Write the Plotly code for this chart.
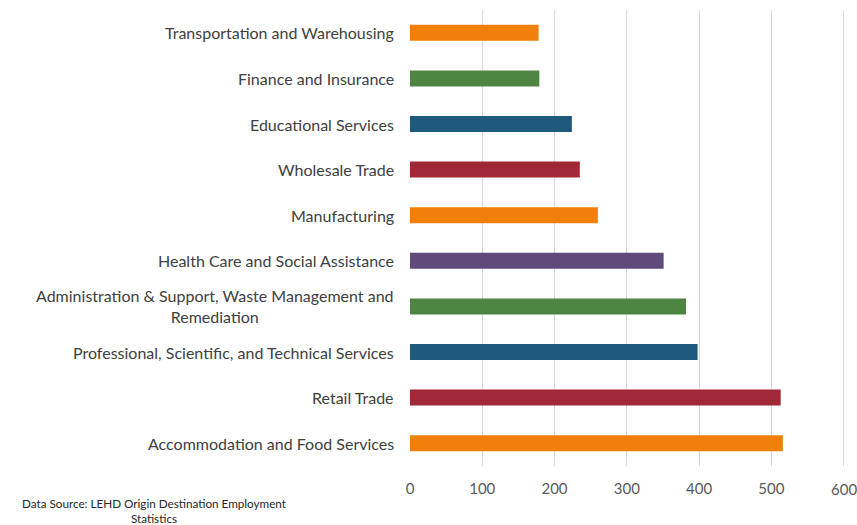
import plotly.graph_objects as go

categories = [
    "Accommodation and Food Services",
    "Retail Trade",
    "Professional, Scientific, and Technical Services",
    "Administration & Support, Waste Management and<br>Remediation",
    "Health Care and Social Assistance",
    "Manufacturing",
    "Wholesale Trade",
    "Educational Services",
    "Finance and Insurance",
    "Transportation and Warehousing",
]
values = [516, 513, 398, 382, 351, 260, 235, 224, 179, 178]
colors = ["#F0800A", "#A02837", "#1D5A7B", "#4E8542", "#604A7B",
          "#F0800A", "#A02837", "#1D5A7B", "#4E8542", "#F0800A"]
x_ticks = [0, 100, 200, 300, 400, 500, 600]
source_note = "Data Source: LEHD Origin Destination Employment<br>Statistics"

FONT = "Lato"
TICKFONT = dict(family=FONT, size=15, color="#595959")

fig = go.Figure(
    go.Bar(
        x=values,
        y=list(range(len(categories))),
        orientation="h",
        marker=dict(color=colors, line=dict(width=0)),
        width=0.35,
        hoverinfo="skip",
    )
)

annotations = []
for i, c in enumerate(categories):
    annotations.append(dict(
        x=0, y=i, xref="x", yref="y", text=c, showarrow=False,
        xanchor="right", yanchor="middle", xshift=-14, align="center",
        font=dict(family=FONT, size=16, color="#404040"),
    ))
# last tick label sits at the figure edge; draw it as an annotation so it is not auto-hidden
annotations.append(dict(
    x=x_ticks[-1], y=0, xref="x", yref="paper", text=str(x_ticks[-1]),
    showarrow=False, xanchor="center", yanchor="middle", yshift=-23,
    font=TICKFONT,
))
annotations.append(dict(
    x=-0.588, y=-0.098, xref="paper", yref="paper", text=source_note,
    showarrow=False, xanchor="center", yanchor="middle", align="center",
    font=dict(family=FONT, size=11.7, color="#262626"),
))

fig.update_layout(
    width=857, height=525,
    margin=dict(l=410, r=12, t=10, b=59, pad=0),
    paper_bgcolor="white", plot_bgcolor="white",
    showlegend=False,
    annotations=annotations,
    xaxis=dict(
        range=[0, 602], tickvals=x_ticks[:-1], ticktext=[str(v) for v in x_ticks[:-1]],
        showgrid=True, gridcolor="#D9D9D9", gridwidth=1,
        zeroline=False, showline=False,
        ticks="", ticklabelstandoff=12,
        tickfont=TICKFONT,
        fixedrange=True,
    ),
    yaxis=dict(
        range=[-0.5, len(categories) - 0.5],
        showticklabels=False, showgrid=False, zeroline=False, showline=False,
        ticks="", fixedrange=True,
    ),
)
# gridline at the last tick too
fig.add_vline(x=x_ticks[-1], line=dict(color="#D9D9D9", width=1), layer="below")

fig.write_html(
    "out.html",
    config={"displayModeBar": False, "staticPlot": True},
    post_script="document.body.style.margin='0';document.body.style.overflow='hidden';",
)
